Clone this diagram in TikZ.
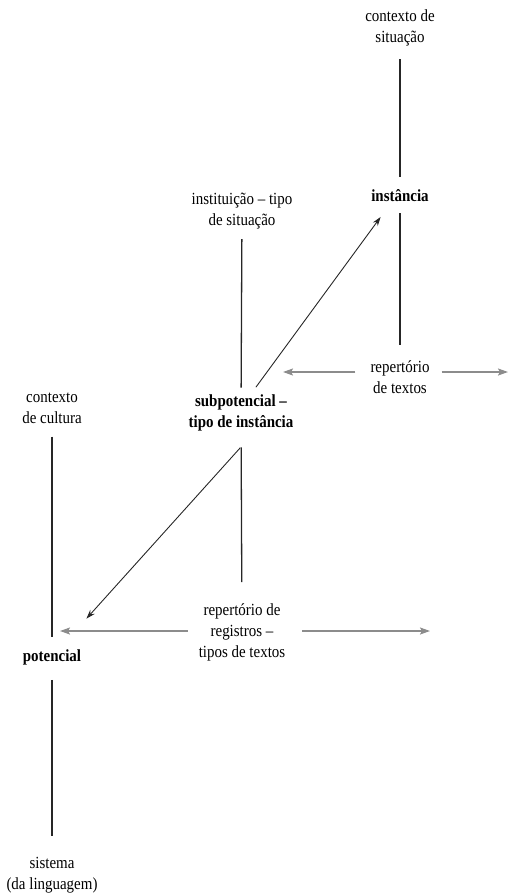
\documentclass[tikz,border=0pt]{standalone}
\usepackage{fontspec}
\setmainfont{Liberation Serif}[FakeStretch=0.88]
\usetikzlibrary{arrows.meta}
\begin{document}
\begin{tikzpicture}[x=1pt,y=-1pt,
  lbl/.style={align=center,inner sep=0pt,font=\fontsize{17}{21}\selectfont},
  blbl/.style={lbl,font=\fontsize{17}{21}\selectfont\bfseries},
  vline/.style={line width=1.3pt,black!85},
  diag/.style={line width=0.9pt,black!85,-{Stealth[length=9pt,width=6pt]}},
  garrow/.style={line width=1.8pt,black!45,-{Stealth[length=10pt,width=7pt,inset=2pt]}}]
\useasboundingbox (0,0) rectangle (509,894);
\node[lbl]  (ctxsit)  at (400,28)  {contexto de\\situação};
\node[blbl] (inst)    at (400,196) {instância};
\node[lbl]  (rept)    at (400,377) {repertório\\de textos};
\node[lbl]  (instit)  at (242,211) {instituição – tipo\\de situação};
\node[blbl] (subpot)  at (241,413) {subpotencial –\\tipo de instância};
\node[lbl]  (ctxcult) at (52,408)  {contexto\\de cultura};
\node[lbl]  (rreg)    at (242,632) {repertório de\\registros –\\tipos de textos};
\node[blbl] (pot)     at (52,657)  {potencial};
\node[lbl]  (sist)    at (52,875)  {sistema\\(da linguagem)};
\coordinate (rl) at (283,372);
\coordinate (rr) at (508,372);
\coordinate (gl) at (60,631);
\coordinate (gr) at (430,631);
% vertical lines
\draw[vline,shorten <=13pt,shorten >=13pt] (ctxsit) -- (inst);
\draw[vline,shorten <=11pt,shorten >=15pt] (inst) -- (rept);
\draw[vline,shorten <=10pt,shorten >=7pt] (instit) -- (subpot);
\draw[vline,shorten <=16pt,shorten >=21pt] (subpot) -- (rreg);
\draw[vline,shorten <=13pt,shorten >=12pt] (ctxcult) -- (pot);
\draw[vline,shorten <=15pt,shorten >=21pt] (pot) -- (sist);
% diagonals
\draw[diag,shorten <=32pt,shorten >=26pt] ([xshift=-4pt]subpot.center) -- ([xshift=-4pt]inst.center);
\draw[diag,shorten <=22pt,shorten >=41pt] ([xshift=14pt]subpot.south) -- ([xshift=7pt]pot.north);
% gray arrows
\draw[garrow,shorten <=15pt] ([yshift=5pt]rept.west) -- (rl);
\draw[garrow,shorten <=12pt] ([yshift=5pt]rept.east) -- (rr);
\draw[garrow,shorten <=11pt] ([yshift=1pt]rreg.west) -- (gl);
\draw[garrow,shorten <=17pt] ([yshift=1pt]rreg.east) -- (gr);
\end{tikzpicture}
\end{document}
